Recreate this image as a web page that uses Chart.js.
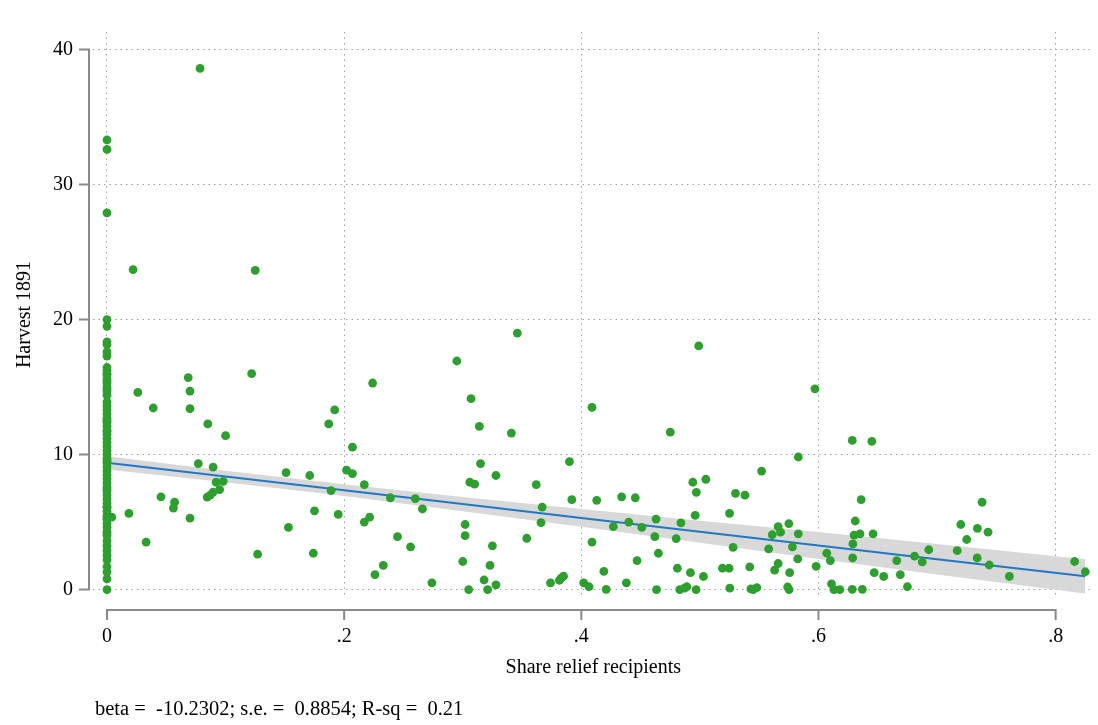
<!DOCTYPE html>
<html>
<head>
<meta charset="utf-8">
<script src="https://cdn.jsdelivr.net/npm/chart.js@4.4.0/dist/chart.umd.min.js"></script>
<style>
body { margin: 0; background: #fff; }
#wrap { position: relative; width: 1098px; height: 725px; }
#note { position: absolute; left: 95px; top: 698px; font: 20.5px "Liberation Serif", serif; line-height: 20px; white-space: pre; color: #000; }
</style>
</head>
<body>
<div id="wrap">
<canvas id="myChart" width="1098" height="725"></canvas>
<div id="note">beta =  -10.2302; s.e. =  0.8854; R-sq =  0.21</div>
</div>
<script>
// share of relief recipients vs harvest 1891

var shareRelief = [
    0, 0, 0, 0, 0, 0, 0, 0, 0, 0,
    0, 0, 0, 0, 0, 0,
    0, 0, 0, 0, 0, 0, 0, 0, 0, 0, 0, 0, 0, 0, 0, 0, 0, 0, 0, 0, 0, 0, 0, 0, 0, 0, 0, 0, 0,
    0, 0, 0, 0, 0, 0, 0, 0,
    0.0785, 0.022, 0.125, 0.346, 0.499, 0.026, 0.039, 0.0685, 0.07, 0.07,
    0.085, 0.1, 0.122, 0.077, 0.0895, 0.092, 0.098, 0.095, 0.0895, 0.087,
    0.0845, 0.0455, 0.057, 0.056, 0.07, 0.0185, 0.004, 0.033, 0.127, 0.151,
    0.171, 0.153, 0.174, 0.175, 0.187, 0.192, 0.189, 0.195, 0.202, 0.207,
    0.207, 0.224, 0.217, 0.217, 0.2215, 0.239, 0.245, 0.256, 0.26, 0.266,
    0.233, 0.226, 0.274, 0.295, 0.307, 0.314, 0.341, 0.315, 0.306, 0.31,
    0.328, 0.302, 0.302, 0.3, 0.305, 0.325, 0.323, 0.318, 0.321, 0.328,
    0.362, 0.367, 0.366, 0.354, 0.374, 0.3815, 0.383, 0.385, 0.39, 0.409,
    0.392, 0.413, 0.409, 0.402, 0.4065, 0.419, 0.421, 0.475, 0.583, 0.6285,
    0.645, 0.597, 0.552, 0.494, 0.505, 0.497, 0.53, 0.538, 0.434, 0.4455,
    0.496, 0.525, 0.44, 0.463, 0.427, 0.451, 0.484, 0.462, 0.48, 0.447,
    0.465, 0.438, 0.4634, 0.481, 0.492, 0.503, 0.483, 0.487, 0.489, 0.4968,
    0.519, 0.5246, 0.528, 0.5252, 0.542, 0.543, 0.545, 0.548, 0.558, 0.561,
    0.566, 0.568, 0.575, 0.583, 0.578, 0.5825, 0.566, 0.563, 0.5757, 0.574,
    0.5752, 0.598, 0.607, 0.61, 0.611, 0.613, 0.618, 0.6285, 0.629, 0.6288,
    0.631, 0.63, 0.635, 0.636, 0.646, 0.647, 0.655, 0.637, 0.666, 0.669,
    0.675, 0.681, 0.6875, 0.693, 0.717, 0.72, 0.725, 0.734, 0.7338, 0.738,
    0.743, 0.744, 0.761, 0.816, 0.825
];

var harvest = [
    33.3, 32.6, 27.9, 20.0, 19.5, 18.35, 18.15, 17.6, 17.3, 16.45,
    16.2, 15.9, 15.6, 15.3, 15.0, 14.7,
    13.9, 13.6, 13.3, 13.0, 12.7, 12.4, 12.1, 11.8, 11.5, 11.2, 10.9, 10.6, 10.3, 10.0, 9.7, 9.4, 9.1, 8.8, 8.5, 8.2, 7.9, 7.6, 7.3, 7.0, 6.7, 6.4, 3.6, 3.25, 2.9,
    2.55, 2.2, 1.7, 1.3, 0.8, 0, 11.7, 6.1,
    38.6, 23.7, 23.65, 19.0, 18.05, 14.6, 13.45, 15.7, 14.7, 13.4,
    12.27, 11.4, 16.0, 9.33, 9.07, 7.95, 8.02, 7.41, 7.22, 6.99,
    6.85, 6.87, 6.47, 6.04, 5.29, 5.64, 5.36, 3.52, 2.62, 8.66,
    8.45, 4.6, 2.69, 5.83, 12.27, 13.31, 7.33, 5.57, 8.85, 10.55,
    8.59, 15.3, 7.77, 5.0, 5.36, 6.8, 3.92, 3.16, 6.73, 5.97,
    1.79, 1.11, 0.5, 16.93, 14.14, 12.09, 11.59, 9.33, 7.95, 7.81,
    8.45, 4.82, 3.99, 2.08, 0, 3.24, 1.79, 0.71, 0, 0.35,
    7.77, 6.11, 4.96, 3.8, 0.5, 0.69, 0.85, 0.99, 9.47, 13.5,
    6.66, 6.61, 3.52, 0.5, 0.21, 1.35, 0.02, 11.66, 9.82, 11.05,
    10.98, 14.87, 8.78, 7.95, 8.17, 7.2, 7.13, 6.99, 6.87, 6.8,
    5.5, 5.64, 5.0, 5.22, 4.67, 4.6, 4.94, 3.92, 3.78, 2.15,
    2.69, 0.5, 0, 1.58, 1.25, 0.97, 0, 0.1, 0.21, 0,
    1.58, 1.58, 3.12, 0.1, 1.68, 0.05, 0, 0.14, 3.02, 4.06,
    4.67, 4.25, 4.89, 4.13, 3.17, 2.27, 1.93, 1.44, 1.25, 0.19,
    0, 1.72, 2.69, 2.15, 0.42, 0, 0, 0.02, 3.38, 2.34,
    5.08, 4.04, 4.13, 6.66, 4.13, 1.25, 0.97, 0.02, 2.15, 1.11,
    0.21, 2.48, 2.05, 2.95, 2.88, 4.82, 3.71, 4.53, 2.34, 6.47,
    4.25, 1.82, 0.97, 2.08, 1.32
];

// more of the dense column at zero share
var zeroColumn = [6.1, 5.8, 5.5, 5.2, 4.9, 4.6, 4.3, 4.0, 14.4, 16.0, 15.45, 14.85, 12.55, 9.55, 7.45, 5.35, 4.15];

// fitted line and 95% band
var fitX = [0, 0.1, 0.2, 0.3, 0.4, 0.5, 0.6, 0.7, 0.825];
var fitY = [9.4, 8.38, 7.35, 6.33, 5.31, 4.28, 3.26, 2.24, 0.98];
var ciUpper = [9.88, 8.8, 7.8, 6.85, 5.96, 5.1, 4.26, 3.37, 2.24];
var ciLower = [8.9, 7.95, 6.93, 5.8, 4.66, 3.46, 2.26, 1.11, -0.3];

var xTicks = [0, 0.2, 0.4, 0.6, 0.8];
var xTickLabels = ['0', '.2', '.4', '.6', '.8'];
var yTicks = [0, 10, 20, 30, 40];
var yTickLabels = ['0', '10', '20', '30', '40'];

function pts(xs, ys) {
    return xs.map(function (x, i) { return { x: x, y: ys[i] }; });
}

var serif = '"Liberation Serif", "Times New Roman", serif';

// stata-like axes that only span the tick range
var stataAxes = {
    id: 'stataAxes',
    afterDraw: function (chart) {
        var ctx = chart.ctx;
        var xs = chart.scales.x, ys = chart.scales.y;
        var area = chart.chartArea;
        ctx.save();
        ctx.strokeStyle = '#8a8a8a';
        ctx.lineWidth = 2;
        ctx.beginPath();
        var ax = area.left - 4;
        ctx.moveTo(ax, ys.getPixelForValue(yTicks[0]));
        ctx.lineTo(ax, ys.getPixelForValue(yTicks[yTicks.length - 1]));
        yTicks.forEach(function (v) {
            var p = ys.getPixelForValue(v);
            ctx.moveTo(ax + 1, p);
            ctx.lineTo(ax - 10, p);
        });
        var ay = area.bottom + 13;
        ctx.moveTo(xs.getPixelForValue(xTicks[0]), ay);
        ctx.lineTo(xs.getPixelForValue(xTicks[xTicks.length - 1]), ay);
        xTicks.forEach(function (v) {
            var p = xs.getPixelForValue(v);
            ctx.moveTo(p, ay - 1);
            ctx.lineTo(p, ay + 10);
        });
        ctx.stroke();
        ctx.restore();
    }
};

new Chart("myChart", {
    type: "scatter",
    data: {
        datasets: [{
            data: pts(shareRelief, harvest).concat(zeroColumn.map(function (y) { return { x: 0, y: y }; })),
            backgroundColor: "#2ca02c",
            borderWidth: 0,
            pointRadius: 4.4
        }, {
            type: "line",
            data: pts(fitX, fitY),
            borderColor: "#1f78c1",
            borderWidth: 2,
            pointRadius: 0,
            fill: false
        }, {
            type: "line",
            data: pts(fitX, ciUpper),
            borderWidth: 0,
            pointRadius: 0,
            backgroundColor: "#d8d8d8",
            fill: '+1'
        }, {
            type: "line",
            data: pts(fitX, ciLower),
            borderWidth: 0,
            pointRadius: 0,
            fill: false
        }]
    },
    options: {
        responsive: false,
        animation: false,
        layout: { padding: { top: 7, right: 3, left: 0, bottom: 45 } },
        plugins: {
            legend: { display: false },
            tooltip: { enabled: false }
        },
        scales: {
            x: {
                type: 'linear',
                min: -0.0118,
                max: 0.832,
                afterBuildTicks: function (axis) {
                    axis.ticks = xTicks.map(function (v) { return { value: v }; });
                },
                afterFit: function (axis) { axis.height = 83; },
                border: { display: false, dash: [1.5, 4] },
                grid: { color: '#a0a0a0', lineWidth: 1, drawTicks: false },
                ticks: {
                    padding: 28,
                    color: '#000',
                    font: { family: serif, size: 20 },
                    callback: function (v, i) { return xTickLabels[i]; }
                },
                title: {
                    display: true,
                    text: 'Share relief recipients',
                    color: '#000',
                    font: { family: serif, size: 20 },
                    padding: { top: 0, bottom: 0 }
                }
            },
            y: {
                min: -0.55,
                max: 41.3,
                afterBuildTicks: function (axis) {
                    axis.ticks = yTicks.map(function (v) { return { value: v }; });
                },
                afterFit: function (axis) { axis.width = 93; },
                border: { display: false, dash: [1.5, 4] },
                grid: { color: '#a0a0a0', lineWidth: 1, drawTicks: false },
                ticks: {
                    padding: 20,
                    color: '#000',
                    font: { family: serif, size: 20 },
                    callback: function (v, i) { return yTickLabels[i]; }
                },
                title: {
                    display: true,
                    text: 'Harvest 1891',
                    color: '#000',
                    font: { family: serif, size: 20 },
                    padding: { top: 13, bottom: 0 }
                }
            }
        }
    },
    plugins: [stataAxes]
});
</script>
</body>
</html>
